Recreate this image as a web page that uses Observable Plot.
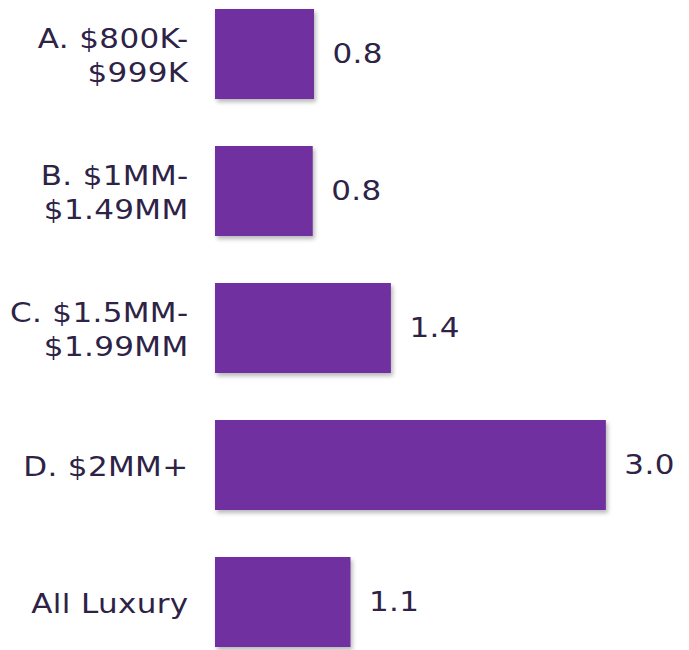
<!DOCTYPE html>
<html>
<head>
<meta charset="utf-8">
<script src="https://cdn.jsdelivr.net/npm/d3@7"></script>
<script src="https://cdn.jsdelivr.net/npm/@observablehq/plot@0.6"></script>
<style>
  html, body { margin: 0; padding: 0; background: #fff; }
  #chart svg text { letter-spacing: 0.3px; }
</style>
</head>
<body>
<div id="chart"></div>
<script>
const categories = ["A. $800K-\n$999K", "B. $1MM-\n$1.49MM", "C. $1.5MM-\n$1.99MM", "D. $2MM+", "All Luxury"];
const values = [0.76, 0.75, 1.35, 3.0, 1.04];
const valueLabels = ["0.8", "0.8", "1.4", "3.0", "1.1"];

const data = categories.map((c, i) => ({cat: c, value: values[i], label: valueLabels[i]}));
const textColor = "#2E2346";
const font = "'DejaVu Sans', sans-serif";

const chart = Plot.plot({
  width: 689,
  height: 650,
  marginLeft: 215,
  marginRight: 18,
  marginTop: 7,
  marginBottom: 0,
  style: {fontFamily: font, background: "#fff"},
  x: {domain: [0, 3.5], axis: null},
  y: {domain: categories, axis: null, paddingInner: 0.34, paddingOuter: 0},
  marks: [
    Plot.barX(data, {y: "cat", x: "value", fill: "#000", fillOpacity: 0.28, dx: 2, dy: 3}),
    Plot.barX(data, {y: "cat", x: "value", fill: "#7030A0"}),
    Plot.text(data, {y: "cat", frameAnchor: "left", text: "cat", textAnchor: "end", dx: -27, fontSize: 26.5, lineHeight: 1.28, fill: textColor}),
    Plot.text(data, {y: "cat", x: "value", text: "label", textAnchor: "start", dx: 18, fontSize: 26.5, fill: textColor})
  ]
});

const svg = d3.select(chart);
// soft blur for the shadow layer
const defs = svg.insert("defs", ":first-child");
defs.append("filter").attr("id", "shadowBlur").attr("x", "-10%").attr("y", "-10%").attr("width", "130%").attr("height", "130%")
  .append("feGaussianBlur").attr("stdDeviation", 2.2);
svg.selectAll("g[aria-label='bar']").filter((d, i) => i === 0).attr("filter", "url(#shadowBlur)");
// widen glyphs to mimic the reference's wide geometric face
svg.selectAll("g[aria-label='text'] > text").each(function() {
  const t = this.getAttribute("transform") || "";
  this.setAttribute("transform", t + " scale(1.17,1)");
});

document.getElementById("chart").appendChild(chart);
</script>
</body>
</html>
